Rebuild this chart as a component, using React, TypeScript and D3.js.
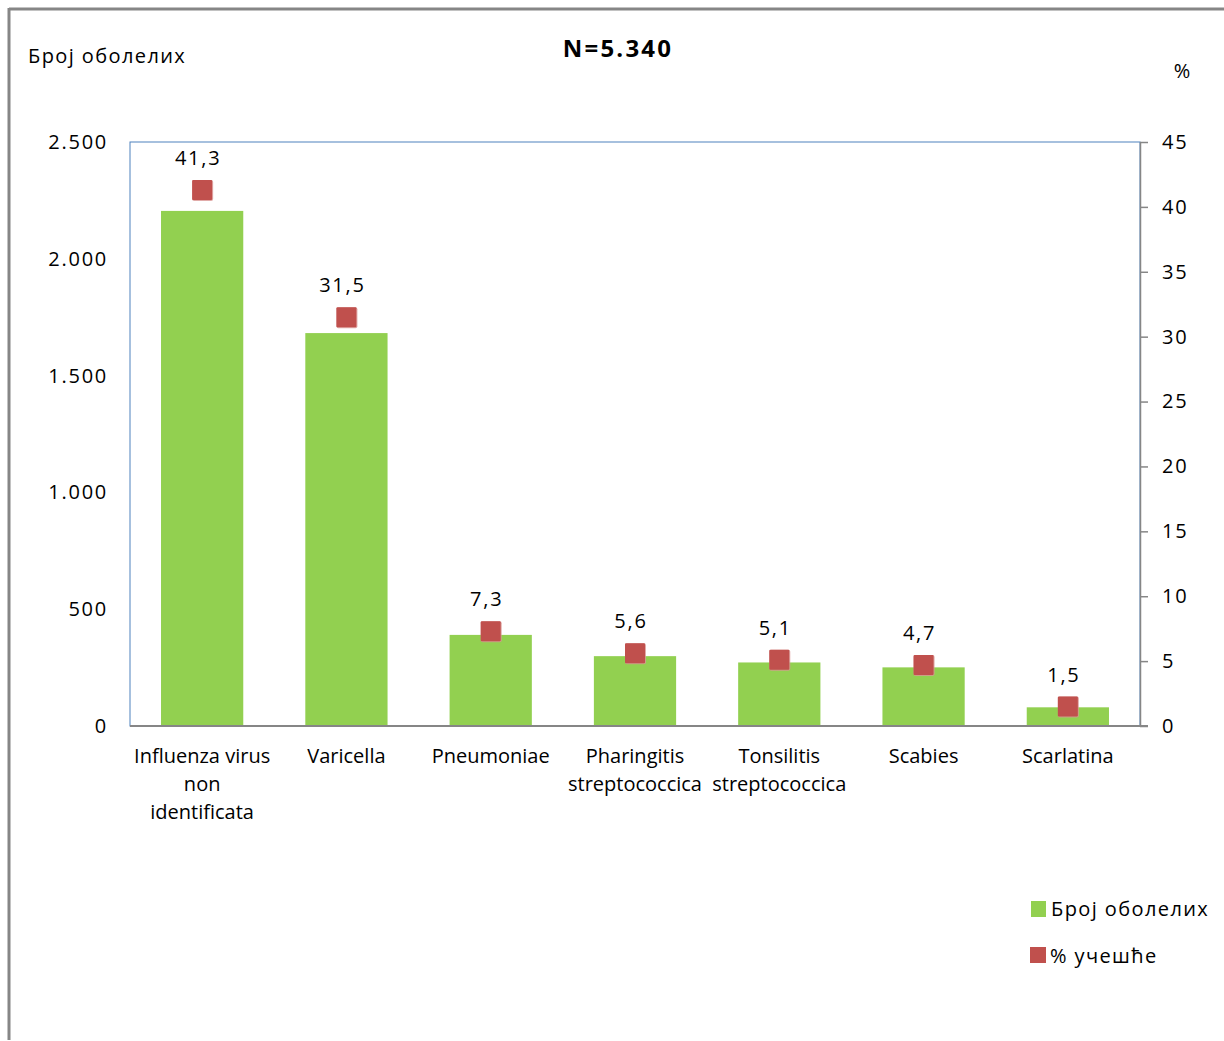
import React, { useRef, useEffect } from 'react';
import * as d3 from 'd3';

// categories (multi-line labels)
const categories = [
  ['Influenza virus', 'non', 'identificata'],
  ['Varicella'],
  ['Pneumoniae'],
  ['Pharingitis', 'streptococcica'],
  ['Tonsilitis', 'streptococcica'],
  ['Scabies'],
  ['Scarlatina'],
];
const cases = [2205, 1682, 390, 299, 272, 251, 80];
const percents = [41.3, 31.5, 7.3, 5.6, 5.1, 4.7, 1.5];
const percentLabels = ['41,3', '31,5', '7,3', '5,6', '5,1', '4,7', '1,5'];
const leftTicks = [0, 500, 1000, 1500, 2000, 2500];
const rightTicks = [0, 5, 10, 15, 20, 25, 30, 35, 40, 45];

const FONT = '"Open Sans", Lato, sans-serif';
const FS = 20;
const NUM_SP = 1.75; // digits look spaced out in the original rendering
const CYR_SP = 1.4;
const GREEN = '#92D050';
const RED = '#C0504D';

export default function App() {
  const leftRef = useRef<SVGGElement>(null);
  const rightRef = useRef<SVGGElement>(null);

  const width = 1224;
  const height = 1041;
  const plot = { left: 130, right: 1140, top: 142, bottom: 726 };

  const x = d3.scaleBand<number>()
    .domain(d3.range(categories.length))
    .range([plot.left, plot.right])
    .paddingInner(0.43)
    .paddingOuter(0.215);
  const yL = d3.scaleLinear().domain([0, 2500]).range([plot.bottom, plot.top]);
  const yR = d3.scaleLinear().domain([0, 45]).range([plot.bottom, plot.top]);

  useEffect(() => {
    const fmt = (d: number) => d3.format(',')(d).replace(/,/g, '.');

    const gl = d3.select(leftRef.current!);
    gl.call(d3.axisLeft(yL).tickValues(leftTicks).tickSize(0).tickPadding(22).tickFormat(d => fmt(+d)) as any);
    gl.select('.domain').remove();
    gl.selectAll('text').attr('font-family', FONT).attr('font-size', FS).attr('fill', '#000')
      .attr('letter-spacing', NUM_SP);

    const gr = d3.select(rightRef.current!);
    gr.call(d3.axisRight(yR).tickValues(rightTicks).tickSize(8).tickSizeOuter(0).tickPadding(14) as any);
    gr.select('.domain').attr('stroke', '#868686').attr('stroke-width', 1.5);
    gr.selectAll('line').attr('stroke', '#868686').attr('stroke-width', 1.5);
    gr.selectAll('text').attr('font-family', FONT).attr('font-size', FS).attr('fill', '#000')
      .attr('letter-spacing', NUM_SP);
  }, []);

  return (
    <svg width={width} height={height} style={{ position: 'absolute', left: 0, top: 0, background: '#fff' }}>
      {/* outer frame (top and left edges visible) */}
      <line x1={9} x2={width} y1={9} y2={9} stroke="#868686" strokeWidth={3} />
      <line x1={9} x2={9} y1={8} y2={1040} stroke="#868686" strokeWidth={3} />

      {/* plot area border */}
      <rect x={plot.left} y={plot.top} width={plot.right - plot.left} height={plot.bottom - plot.top}
        fill="none" stroke="#4F81BD" strokeWidth={1} />

      {/* bars */}
      {cases.map((v, i) => (
        <rect key={i} x={x(i)} y={yL(v)} width={x.bandwidth()} height={plot.bottom - yL(v)} fill={GREEN} />
      ))}

      {/* bottom axis line */}
      <line x1={plot.left} x2={plot.right + 8} y1={plot.bottom} y2={plot.bottom} stroke="#868686" strokeWidth={2} />
      <g ref={leftRef} transform={`translate(${plot.left},0)`} />
      <g ref={rightRef} transform={`translate(${plot.right},0)`} />

      {/* markers */}
      {percents.map((p, i) => {
        const cx = x(i)! + x.bandwidth() / 2;
        const cy = yR(p);
        return (
          <g key={i}>
            <rect x={cx - 10} y={cy - 10} width={21} height={21} fill="#D99694" opacity={0.8} rx={2} />
            <rect x={cx - 10} y={cy - 10} width={20} height={20} fill={RED} rx={1} />
            <text x={cx - 4} y={cy - 25} textAnchor="middle" fontFamily={FONT} fontSize={FS}
              letterSpacing={NUM_SP} fill="#000">
              {percentLabels[i]}
            </text>
          </g>
        );
      })}

      {/* category labels */}
      {categories.map((lines, i) => (
        <text key={i} textAnchor="middle" fontFamily={FONT} fontSize={FS} fill="#000">
          {lines.map((ln, j) => (
            <tspan key={j} x={x(i)! + x.bandwidth() / 2} y={763 + j * 28}>{ln}</tspan>
          ))}
        </text>
      ))}

      {/* titles */}
      <text x={618} y={57} textAnchor="middle" fontFamily={FONT} fontSize={24} fontWeight="bold"
        letterSpacing={2.2} fill="#000">N=5.340</text>
      <text x={28} y={63} fontFamily={FONT} fontSize={FS} letterSpacing={CYR_SP} fill="#000">Број оболелих</text>
      <text x={1182} y={78} textAnchor="middle" fontFamily={FONT} fontSize={FS} fill="#000">%</text>

      {/* legend */}
      <rect x={1031} y={901} width={15} height={16} fill={GREEN} />
      <text x={1051} y={916} fontFamily={FONT} fontSize={FS} letterSpacing={CYR_SP} fill="#000">Број оболелих</text>
      <rect x={1030} y={947} width={16} height={16} fill={RED} />
      <text x={1050} y={963} fontFamily={FONT} fontSize={FS} letterSpacing={CYR_SP} fill="#000">% учешће</text>
    </svg>
  );
}
